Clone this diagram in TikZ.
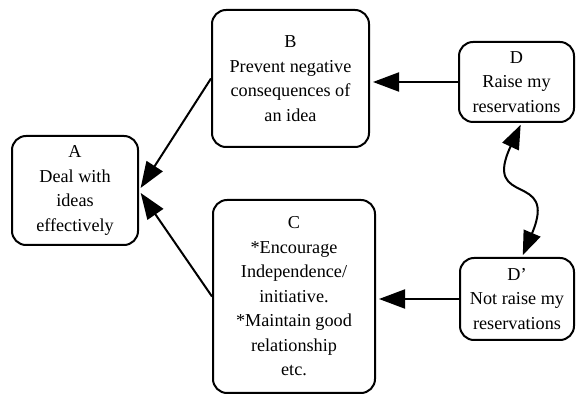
\documentclass[tikz,border=0pt]{standalone}
\usepackage{fontspec}
\setmainfont{Liberation Serif}
\usetikzlibrary{arrows.meta}
\begin{document}
\begin{tikzpicture}[x=1pt,y=-1pt,
  box/.style={draw=black, line width=2pt, rounded corners=14pt,
    align=center, inner sep=0pt, fill=white,
    font=\fontsize{18.2}{24.5}\selectfont},
  head/.style={Triangle[length=26pt,width=19pt]},
  link/.style={draw=black, line width=2pt,
    -{Triangle[length=26pt,width=19pt]}, shorten >=3pt}
]
\useasboundingbox (0,0) rectangle (576,395);

\node[box, minimum width=126pt, minimum height=109pt] (A) at (75,190.5)
  {A\\Deal with\\ideas\\effectively};
\node[box, minimum width=157pt, minimum height=137pt] (B) at (290.5,78.5)
  {B\\Prevent negative\\consequences of\\an idea};
\node[box, minimum width=162pt, minimum height=193pt] (C) at (294,296.5)
  {C\\*Encourage\\Independence/\\initiative.\\*Maintain good\\relationship\\etc.};
\node[box, minimum width=115pt, minimum height=80pt] (D) at (516.5,82)
  {D\\Raise my\\reservations};
\node[box, minimum width=114pt, minimum height=82pt] (Dp) at (517,299)
  {D'\\Not raise my\\reservations};

% influences feeding into the goals
\draw[link] (D.west) -- (D.west -| B.east);
\draw[link] (Dp.west) -- (Dp.west -| C.east);
\draw[link] (B.west) -- (A.east);
\draw[link] (C.west) -- (A.east);

% the two alternatives exclude each other
\draw[line width=2pt,
  {Triangle[length=24pt,width=18pt]}-{Triangle[length=24pt,width=18pt]},
  shorten <=2pt, shorten >=2pt]
  ([xshift=5pt]D.south) to[out=245, in=67, looseness=1.8] ([xshift=5pt]Dp.north);
\end{tikzpicture}
\end{document}
